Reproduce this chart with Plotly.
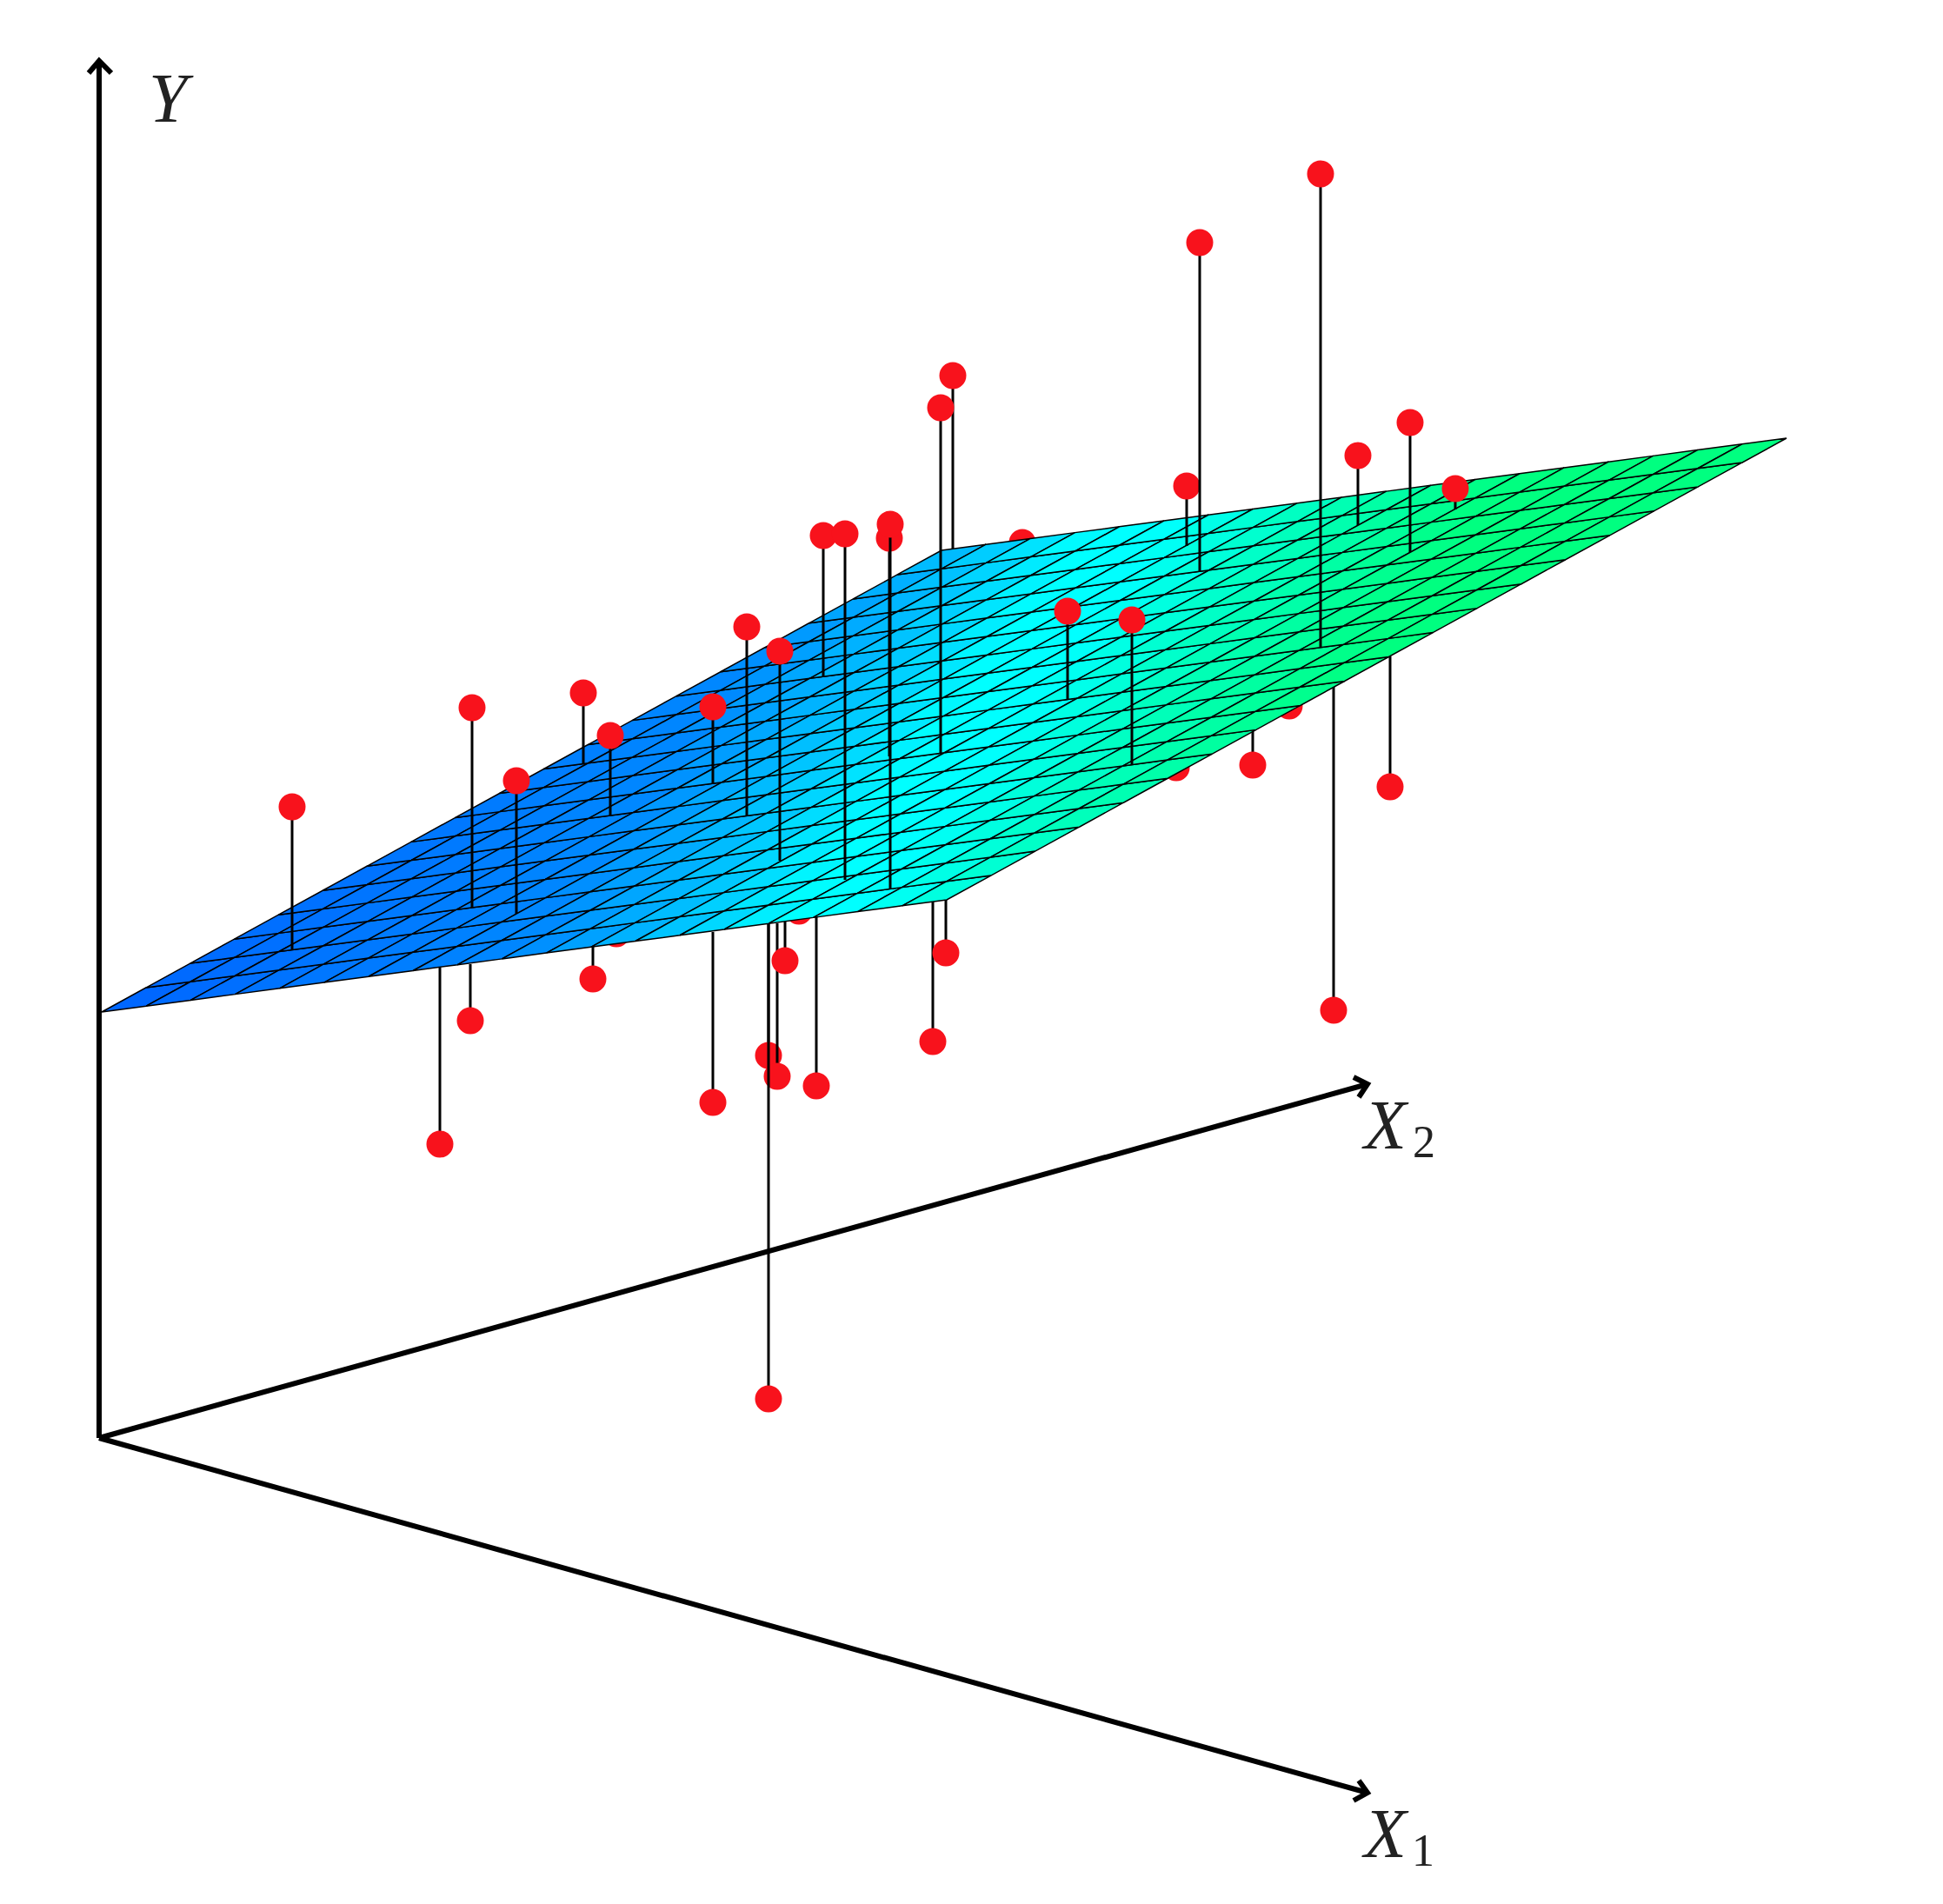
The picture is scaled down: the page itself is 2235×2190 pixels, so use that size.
import numpy as np
import plotly.graph_objects as go
from plotly.colors import sample_colorscale

# the whole chart is an oblique projection, so the axes are in picture units
WIDTH = 2235
HEIGHT = 2190

# regression plane corners (left, front, right, back)
PLANE_X = [117, 1089, 2059, 1083]
PLANE_Y = [1164, 1035, 503, 633]
N_CELLS = 19
PLANE_COLORS = [[0.0, "#0064ff"], [0.3, "#0088ff"], [0.42, "#00c8ff"], [0.5, "#00ffff"],
                [0.55, "#00ffff"], [0.66, "#00ffbe"], [0.8, "#00ff80"], [1.0, "#00ff80"]]
# share of the height gained along the back edge, against the front edge
BACK_WEIGHT = 0.639

# observations under the plane: dot position and where the pin meets the plane
UNDER_X = [506, 541, 682, 709, 820, 884, 894, 884, 903, 919, 939, 1073, 1088,
           1096, 1176, 1353, 1441, 1483, 1534, 1599]
UNDER_Y = [1316, 1174, 1126, 1074, 1268, 1214, 1238, 1609, 1105, 1048, 1249,
           1198, 1096, 432, 624, 883, 880, 812, 1162, 905]
UNDER_FOOT = [1113, 1109, 1088, 1060, 1072, 1063, 1062, 1063, 1060, 1040, 1055,
              1037, 1035, 631, 624, 870, 840, 800, 790, 755]

# observations over the plane
OVER_X = [336, 543, 594, 671, 702, 820, 859, 897, 947, 972, 1023, 1024, 1082,
          1228, 1302, 1365, 1380, 1519, 1562, 1622, 1674]
OVER_Y = [928, 814, 898, 797, 846, 813, 721, 749, 616, 614, 619, 603, 469,
          703, 713, 559, 279, 200, 524, 486, 562]
OVER_FOOT = [1093, 1044, 1051, 879, 938, 901, 938, 990, 778, 1012, 870, 1023,
             866, 804, 879, 628, 657, 744, 604, 635, 586]

DOT_COLOR = "#f8121c"
AXIS_X = [[114, 114], [114, 1573], [114, 1573]]
AXIS_Y = [[1654, 70], [1654, 2062], [1654, 1247]]
HEAD_X = [[102, 114, 128], [1563, 1573, 1557], [1557, 1573, 1563]]
HEAD_Y = [[84, 70, 84], [2048, 2062, 2071], [1239, 1247, 1262]]

LABEL_TEXT = ["<i>Y</i>", "<i>X</i>", "1", "<i>X</i>", "2"]
LABEL_X = [169, 1564, 1622, 1564, 1623]
LABEL_Y = [159, 2155, 2159, 1340, 1344]
LABEL_SIZE = [80, 80, 52, 80, 52]

fig = go.Figure()


def add_pins(xs, ys, feet):
    for x, y, foot in zip(xs, ys, feet):
        fig.add_trace(go.Scatter(
            x=[x, x], y=[y, foot], mode="lines+markers",
            line=dict(color="black", width=3),
            marker=dict(color=DOT_COLOR, size=[31, 0], opacity=1, line=dict(width=0)),
            hoverinfo="skip"))


add_pins(UNDER_X, UNDER_Y, UNDER_FOOT)

# plane, one flat coloured quad per cell
origin = np.array([PLANE_X[0], PLANE_Y[0]], dtype=float)
step_front = (np.array([PLANE_X[1], PLANE_Y[1]]) - origin) / N_CELLS
step_back = (np.array([PLANE_X[3], PLANE_Y[3]]) - origin) / N_CELLS

for i in range(N_CELLS):
    for j in range(N_CELLS):
        corners = [origin + a * step_front + b * step_back
                   for a, b in [(i, j), (i + 1, j), (i + 1, j + 1), (i, j + 1), (i, j)]]
        height = ((i + 0.5) + BACK_WEIGHT * (j + 0.5)) / (N_CELLS * (1 + BACK_WEIGHT))
        fig.add_trace(go.Scatter(
            x=[c[0] for c in corners], y=[c[1] for c in corners],
            mode="lines", fill="toself",
            fillcolor=sample_colorscale(PLANE_COLORS, height)[0],
            line=dict(color="black", width=1.5),
            hoverinfo="skip"))

add_pins(OVER_X, OVER_Y, OVER_FOOT)

# axes with open arrow heads
for ax_x, ax_y, head_x, head_y in zip(AXIS_X, AXIS_Y, HEAD_X, HEAD_Y):
    fig.add_trace(go.Scatter(x=ax_x, y=ax_y, mode="lines",
                             line=dict(color="black", width=6), hoverinfo="skip"))
    fig.add_trace(go.Scatter(x=head_x, y=head_y, mode="lines",
                             line=dict(color="black", width=6), hoverinfo="skip"))

for text, x, y, size in zip(LABEL_TEXT, LABEL_X, LABEL_Y, LABEL_SIZE):
    fig.add_annotation(x=x, y=y, text=text, showarrow=False, xanchor="left", yanchor="bottom",
                       font=dict(family="Liberation Serif", size=size, color="#222222"))

fig.update_layout(
    width=WIDTH, height=HEIGHT, showlegend=False,
    margin=dict(l=0, r=0, t=0, b=0),
    paper_bgcolor="white", plot_bgcolor="white",
    xaxis=dict(range=[0, WIDTH], visible=False),
    yaxis=dict(range=[HEIGHT, 0], visible=False),
)

fig.write_html("out.html", config={"displayModeBar": False},
               post_script="document.body.style.margin = '0';")
